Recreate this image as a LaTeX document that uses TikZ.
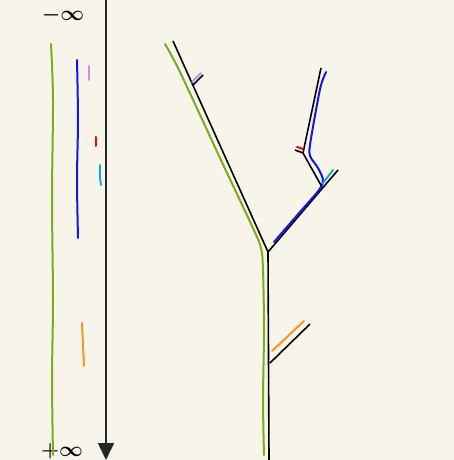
\documentclass[tikz,border=0pt]{standalone}
\usetikzlibrary{arrows.meta}
\definecolor{paper}{RGB}{247,245,233}
\definecolor{leaf}{RGB}{122,172,30}
\definecolor{ink}{RGB}{20,20,240}
\definecolor{lilac}{RGB}{205,140,240}
\definecolor{sky}{RGB}{20,170,210}
\definecolor{amber}{RGB}{250,150,30}

\begin{document}
\begin{tikzpicture}[x=1pt, y=-1pt,
    axis/.style={draw=black!85, line width=1.6pt, -{Triangle[length=17pt, width=16pt]}},
    branch/.style={draw=black, line width=1.6pt},
    trace/.style={line width=2pt, line cap=round},
    lbl/.style={font=\fontsize{21}{23}\selectfont\boldmath, inner sep=0pt}
]
\fill[paper] (0,0) rectangle (454,460);
\useasboundingbox (0,0) rectangle (454,460);

% time axis
\coordinate (top) at (106,0);
\coordinate (bot) at (106,460);
\draw[axis] (top) -- (bot);
\node[lbl] (minf) at (63,15) {$-\infty$};
\node[lbl] (pinf) at (62,451) {$+\infty$};

% intervals next to the axis
\draw[trace, leaf] plot[smooth] coordinates {(51,44) (53,100) (52,200) (53,300) (52,380) (53,455)};
\draw[trace, ink] plot[smooth] coordinates {(77,60) (78,120) (77,180) (78,238)};
\draw[trace, lilac] (89,66) -- (89,80);
\draw[trace, red] (96,137) -- (96,146);
\draw[trace, sky] plot[smooth] coordinates {(100,165) (100,177) (101,185)};
\draw[trace, amber] (82,323) -- (84,366);

% tree
\coordinate (root) at (269,460);
\coordinate (fork) at (268,252);
\coordinate (ltop) at (173,41);
\coordinate (lbase) at (193,85);
\coordinate (ltip) at (203,75);
\coordinate (rfork) at (322,187);
\coordinate (rend) at (338,170);
\coordinate (kink) at (303,153);
\coordinate (ktip) at (295,150);
\coordinate (rtop) at (321,68);
\coordinate (obase) at (270,363);
\coordinate (otip) at (310,324);

\draw[branch] (root) -- (fork);
\draw[branch] (fork) -- (ltop);
\draw[branch] (lbase) -- (ltip);
\draw[branch] (fork) -- (rend);
\draw[branch] (rfork) -- (kink);
\draw[branch] (kink) -- (rtop);
\draw[branch] (kink) -- (ktip);
\draw[branch] (obase) -- (otip);

% coloured paths along the tree
\draw[trace, leaf] plot[smooth] coordinates {(165,44) (180,72) (220,158) (252,226) (261,248) (263,270) (264,330) (263,400) (264,455)};
\draw[trace, ink] plot[smooth] coordinates {(274,242) (300,212) (319,190) (323,180) (318,168) (310,156) (310,145) (316,110) (321,85) (326,72)};
\draw[trace, lilac] (192,82) -- (201,73);
\draw[trace, red] (297,147) -- (303,149);
\draw[trace, sky] (323,183) -- (333,170);
\draw[trace, amber] (272,351) -- (304,321);
\end{tikzpicture}
\end{document}
